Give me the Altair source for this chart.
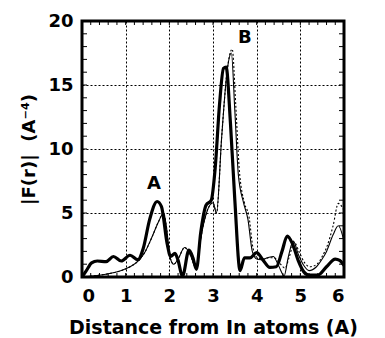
import altair as alt
import pandas as pd

# Thick solid curve
thick_r = [0.00, 0.10, 0.22, 0.35, 0.55, 0.72, 0.90, 1.10, 1.28, 1.40, 1.55, 1.72, 1.82, 1.95, 2.03,
           2.13, 2.20, 2.30, 2.45, 2.54, 2.62, 2.72, 2.84, 2.96, 3.05, 3.15, 3.24, 3.30, 3.40, 3.50,
           3.62, 3.72, 3.85, 4.00, 4.15, 4.30, 4.45, 4.58, 4.70, 4.82, 4.95, 5.08, 5.20, 5.40, 5.60,
           5.80, 5.90, 6.00]
thick_f = [0.0, 0.5, 1.1, 1.25, 1.2, 1.6, 1.25, 1.7, 1.35, 2.2, 4.5, 5.9, 5.5, 2.6, 1.6,
           1.85, 1.3, 0.05, 2.1, 1.5, 0.6, 3.5, 5.6, 6.0, 8.5, 13.5, 16.3, 16.4, 12.0, 6.0,
           0.5, 1.5, 1.5, 1.9, 1.3, 0.75, 0.8, 2.0, 3.2, 2.6, 1.3, 0.4, 0.15, 0.15, 0.8,
           1.4, 1.3, 0.9]

# Thin solid curve
thin_r = [0.00, 0.30, 0.60, 0.90, 1.10, 1.30, 1.45, 1.60, 1.75, 1.87, 1.93, 2.02, 2.10, 2.20, 2.35,
          2.47, 2.55, 2.62, 2.72, 2.85, 3.00, 3.08, 3.20, 3.32, 3.42, 3.50, 3.58, 3.70, 3.80, 3.90,
          4.00, 4.10, 4.25, 4.38, 4.50, 4.63, 4.72, 4.84, 4.95, 5.08, 5.20, 5.37, 5.50, 5.60, 5.75,
          5.87, 6.00]
thin_f = [0.0, 0.1, 0.25, 0.5, 0.8, 1.3, 2.0, 3.1, 4.3, 5.0, 4.0, 1.5, 1.0, 1.4, 2.3,
          1.8, 1.1, 0.6, 3.0, 5.0, 5.8, 5.0, 11.0, 16.0, 17.5, 13.0, 8.0, 5.8, 4.5, 2.0,
          1.4, 1.35, 1.5, 1.6, 0.9, 0.1, 1.5, 2.8, 1.8, 0.9, 0.5, 0.8, 1.4, 2.0, 3.3,
          4.0, 2.8]

# Dotted curve
dot_r = [0.00, 0.30, 0.60, 0.90, 1.10, 1.30, 1.45, 1.60, 1.75, 1.87, 1.93, 2.02, 2.10, 2.20, 2.35,
         2.47, 2.55, 2.62, 2.72, 2.85, 3.00, 3.08, 3.20, 3.32, 3.44, 3.52, 3.60, 3.72, 3.82, 3.92,
         4.02, 4.15, 4.28, 4.40, 4.52, 4.65, 4.75, 4.86, 4.98, 5.10, 5.22, 5.38, 5.50, 5.60, 5.75,
         5.87, 6.00]
dot_f = [0.0, 0.1, 0.25, 0.5, 0.8, 1.3, 2.0, 3.1, 4.3, 5.0, 4.0, 1.5, 1.0, 1.4, 2.3,
         1.8, 1.1, 0.6, 3.0, 5.0, 5.8, 5.0, 11.0, 16.0, 17.8, 13.5, 8.5, 5.8, 4.8, 2.2,
         1.5, 1.4, 1.5, 1.5, 1.1, 0.7, 1.6, 2.7, 1.9, 1.1, 0.8, 1.0, 1.6, 2.3, 4.0,
         5.75, 5.2]

labels = ["A", "B"]
label_r = [1.65, 3.73]
label_f = [7.3, 18.7]

x_ticks = [0, 1, 2, 3, 4, 5, 6]
y_ticks = [0, 5, 10, 15, 20]
x_minor = [round(i * 0.2, 2) for i in range(31)]
y_minor = list(range(21))

W, H = 262, 256
FONT = "DejaVu Sans"

xs = alt.Scale(domain=[0, 6], nice=False, zero=False)
ys = alt.Scale(domain=[0, 20], nice=False, zero=False)

def curve(r, f):
    return pd.DataFrame({"r": r, "f": f})

xax = alt.Axis(values=x_ticks, title="Distance from In atoms (A)", grid=True, ticks=False,
               domain=False, labelPadding=10, titlePadding=13, titleFontSize=19)
yax = alt.Axis(values=y_ticks, title="|F(r)|\u00a0\u00a0(A⁻⁴)", grid=True, ticks=False,
               domain=False, labelPadding=9, titlePadding=9)

base_thick = alt.Chart(curve(thick_r, thick_f)).mark_line(
    color="black", strokeWidth=3.2, interpolate="monotone", clip=True
).encode(x=alt.X("r:Q", scale=xs, axis=xax), y=alt.Y("f:Q", scale=ys, axis=yax))

thin = alt.Chart(curve(thin_r, thin_f)).mark_line(
    color="black", strokeWidth=1.1, interpolate="monotone", clip=True
).encode(x=alt.X("r:Q", scale=xs), y=alt.Y("f:Q", scale=ys))

dotted = alt.Chart(curve(dot_r, dot_f)).mark_line(
    color="black", strokeWidth=1.1, strokeDash=[2, 2], interpolate="monotone", clip=True
).encode(x=alt.X("r:Q", scale=xs), y=alt.Y("f:Q", scale=ys))

text = alt.Chart(pd.DataFrame({"t": labels, "r": label_r, "f": label_f})).mark_text(
    font=FONT, fontSize=18, fontWeight="bold", color="black"
).encode(x=alt.X("r:Q", scale=xs), y=alt.Y("f:Q", scale=ys), text="t:N")

xm = pd.DataFrame({"v": x_minor})
ym = pd.DataFrame({"v": y_minor})
tb = alt.Chart(xm).mark_rule(color="black", strokeWidth=1).encode(
    x=alt.X("v:Q", scale=xs), y=alt.value(H), y2=alt.value(H - 4))
tt = alt.Chart(xm).mark_rule(color="black", strokeWidth=1).encode(
    x=alt.X("v:Q", scale=xs), y=alt.value(0), y2=alt.value(4))
tl = alt.Chart(ym).mark_rule(color="black", strokeWidth=1).encode(
    y=alt.Y("v:Q", scale=ys), x=alt.value(0), x2=alt.value(5))
tr = alt.Chart(ym).mark_rule(color="black", strokeWidth=1).encode(
    y=alt.Y("v:Q", scale=ys), x=alt.value(W), x2=alt.value(W - 5))

chart = alt.layer(base_thick, thin, dotted, text, tb, tt, tl, tr).properties(
    width=W, height=H,
    autosize=alt.AutoSizeParams(type="none"),
    padding={"left": 82, "top": 21, "right": 41, "bottom": 61},
    background="white",
).configure_view(stroke="black", strokeWidth=3).configure_axis(
    labelFont=FONT, labelFontSize=18, labelFontWeight="bold", labelColor="black",
    titleFont=FONT, titleFontSize=18, titleFontWeight="bold", titleColor="black",
    gridColor="black", gridDash=[2, 2], gridWidth=1, gridOpacity=1,
)

chart.save("out.html", embed_options={"renderer": "svg", "actions": False})
